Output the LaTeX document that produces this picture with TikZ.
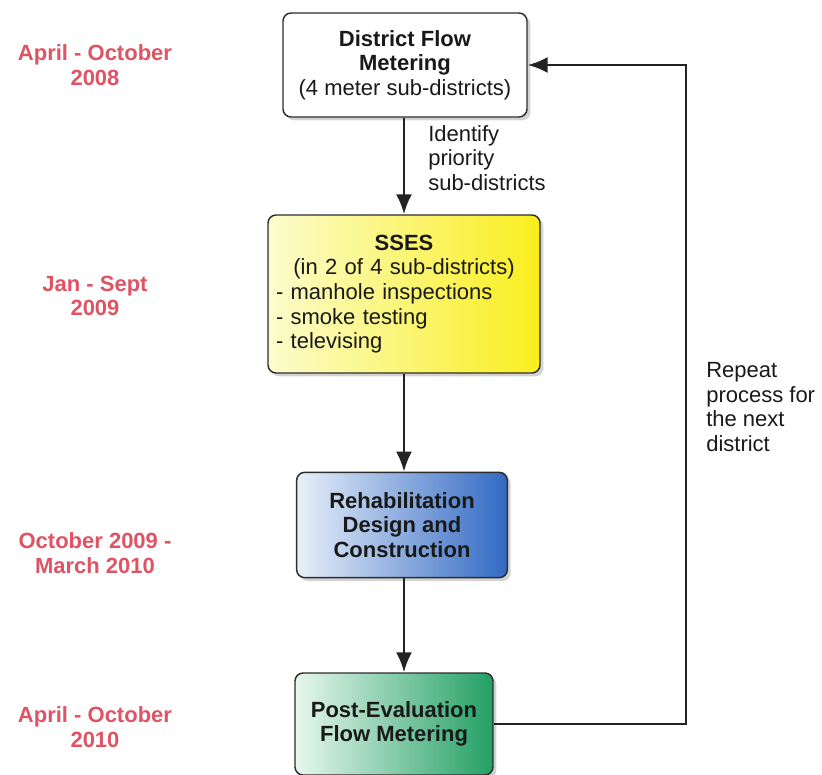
\documentclass[tikz,border=0pt]{standalone}
\usepackage{fontspec}
\setmainfont{Liberation Sans}
\usetikzlibrary{arrows.meta,shadows}

\begin{document}
\begin{tikzpicture}[x=0.75pt,y=0.75pt,yscale=-1,xscale=1,
    stage/.style={draw={rgb, 255:red, 45; green, 45; blue, 45 }, line width=1.1pt, rounded corners=6pt,
      align=center, inner sep=6pt, text={rgb, 255:red, 25; green, 25; blue, 25 },
      font=\fontsize{16.5}{18.5}\selectfont,
      drop shadow={opacity=0.35, shadow xshift=2.5pt, shadow yshift=-2.5pt}},
    when/.style={inner sep=0pt, align=center, font=\fontsize{16.5}{18.5}\selectfont\bfseries,
      text={rgb, 255:red, 222; green, 84; blue, 100 }},
    note/.style={inner sep=0pt, align=left, anchor=north west, font=\fontsize{16.5}{18.5}\selectfont,
      text={rgb, 255:red, 25; green, 25; blue, 25 }},
    flow/.style={draw={rgb, 255:red, 35; green, 35; blue, 35 }, line width=1.8pt,
      -{Latex[length=15pt,width=12pt]}}
  ]
  \useasboundingbox (0,0) rectangle (822,775);

  %Shape: Rounded Rect [id:dfm]
  \node [stage, fill=white, minimum width=183pt, minimum height=78pt] (dfm) at (405,65)
    {\textbf{District Flow}\\\textbf{Metering}\\(4 meter sub-districts)};
  %Shape: Rounded Rect [id:sses]
  \node [stage, left color={rgb, 255:red, 252; green, 252; blue, 205 }, right color={rgb, 255:red, 250; green, 238; blue, 30 },
    minimum width=204pt, minimum height=118.5pt, text width=192pt, align=left] (sses) at (404,294)
    {\makebox[\hsize]{\textbf{SSES}}\\\makebox[\hsize]{(in 2 of 4 sub-districts)}\\- manhole inspections\\- smoke testing\\- televising};
  %Shape: Rounded Rect [id:rehab]
  \node [stage, left color={rgb, 255:red, 232; green, 240; blue, 250 }, right color={rgb, 255:red, 50; green, 105; blue, 195 },
    minimum width=158pt, minimum height=79pt] (rehab) at (402,525)
    {\textbf{Rehabilitation}\\\textbf{Design and}\\\textbf{Construction}};
  %Shape: Rounded Rect [id:post]
  \node [stage, left color={rgb, 255:red, 232; green, 247; blue, 238 }, right color={rgb, 255:red, 35; green, 160; blue, 100 },
    minimum width=148.5pt, minimum height=76.5pt] (post) at (394,724)
    {\textbf{Post-Evaluation}\\\textbf{Flow Metering}};

  %Straight Lines [id:da1]
  \draw [flow] (dfm.south -| sses.north) -- (sses.north);
  %Straight Lines [id:da2]
  \draw [flow] (sses.south) -- (rehab.north -| sses.south);
  %Straight Lines [id:da3]
  \draw [flow] (rehab.south -| sses.south) -- (post.north -| sses.south);
  %Straight Lines [id:da4]
  \draw [flow] (post.east) -- ++(192,0) |- (dfm.east);

  % Text Node
  \node [note] (why) at (428,125) {Identify\\priority\\sub-districts};
  % Text Node
  \node [note] (again) at (706,362) {Repeat\\process for\\the next\\district};
  % Text Node
  \node [when] (t1) at (95,65) {April - October\\2008};
  % Text Node
  \node [when] (t2) at (95,296) {Jan - Sept\\2009};
  % Text Node
  \node [when] (t3) at (95,553) {October 2009 -\\March 2010};
  % Text Node
  \node [when] (t4) at (95,727) {April - October\\2010};
\end{tikzpicture}
\end{document}
